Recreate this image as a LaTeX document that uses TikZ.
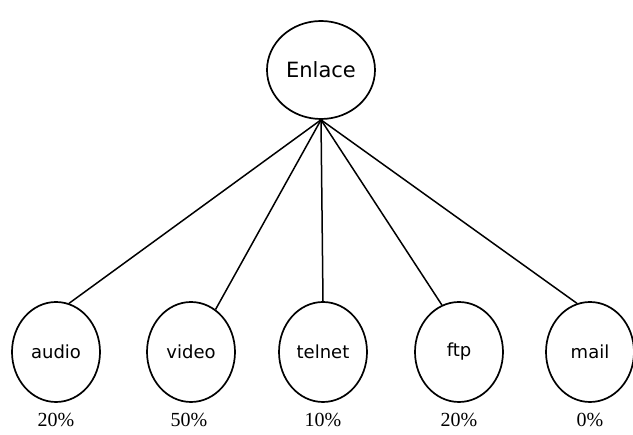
\documentclass[tikz,border=0pt]{standalone}
\usepackage{fontspec}
\setmainfont{Liberation Serif}
\newfontfamily\labelfont{DejaVu Sans}
\usetikzlibrary{shapes.geometric}
\begin{document}
\begin{tikzpicture}[x=1pt,y=-1pt,
  oval/.style={ellipse,draw,line width=1.7pt,inner sep=0pt,
    minimum width=88pt,minimum height=100pt,font=\labelfont\fontsize{18}{20}\selectfont},
  link/.style={line width=1.5pt},
  pct/.style={font=\fontsize{20}{22}\selectfont}]
\useasboundingbox (0,0) rectangle (633,435);
% root
\node[oval,minimum width=108pt,minimum height=98pt,font=\labelfont\fontsize{21}{24}\selectfont] (enlace) at (321,70) {Enlace};
% leaves
\node[oval] (audio)  at (56,352)  {audio};
\node[oval] (video)  at (191,352) {video};
\node[oval] (telnet) at (323,352) {telnet};
\node[oval] (ftp)    at (459,352) {ftp};
\node[oval] (mail)   at (590,352) {mail};
% shares
\node[pct] (paudio)  at (56,420)  {20\%};
\node[pct] (pvideo)  at (189,420) {50\%};
\node[pct] (ptelnet) at (323,420) {10\%};
\node[pct] (pftp)    at (459,420) {20\%};
\node[pct] (pmail)   at (590,420) {0\%};
% connectors
\coordinate (hub) at (enlace.south);
\draw[link] (hub) -- (audio.75);
\draw[link] (hub) -- (video.60);
\draw[link] (hub) -- (telnet.north);
\draw[link] (hub) -- (ftp.110);
\draw[link] (hub) -- (mail.105);
\end{tikzpicture}
\end{document}
